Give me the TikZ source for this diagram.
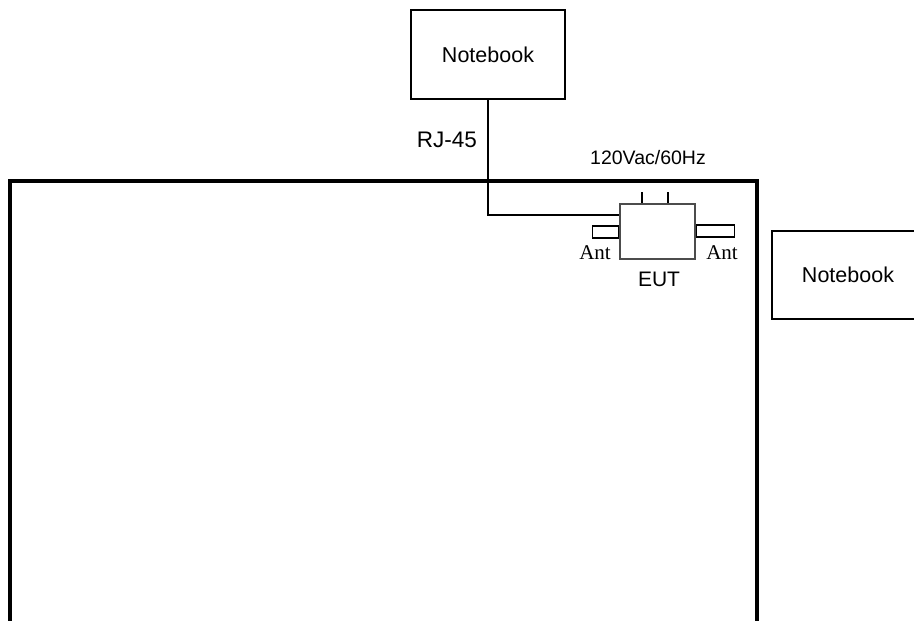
\documentclass[tikz,border=0pt]{standalone}
\usepackage{fontspec}
\setmainfont{Liberation Sans}
\newfontfamily\antfont{Liberation Serif}
\tikzset{
  pcbox/.style={draw, line width=1.3pt, font=\fontsize{21.5}{24}\selectfont},
  antbox/.style={draw, line width=1.3pt, minimum height=12pt, inner sep=0pt},
  lbl/.style={inner sep=0pt, font=\fontsize{21}{24}\selectfont},
}
\begin{document}
\begin{tikzpicture}[x=1pt,y=-1pt,line width=1.3pt]
\useasboundingbox (0,0) rectangle (914,621);
\clip (0,0) rectangle (914,621);
\fill[white] (0,0) rectangle (914,621);

% table outline
\draw[line width=4pt] (10,640) -- (10,181) -- (757,181) -- (757,640);

\node[pcbox, minimum width=154pt, minimum height=89pt] (nbtop) at (488,54.5) {Notebook};
\node[pcbox, minimum width=152pt, minimum height=88pt] (nbright) at (848,275) {Notebook};

\node[draw, line width=2pt, draw=black!70, minimum width=75pt, minimum height=55pt] (eut) at (657.5,231.5) {};
\node[antbox, minimum width=26pt, anchor=east] (antl) at (eut.west |- 0,232) {};
\node[antbox, minimum width=38pt, anchor=west] (antr) at (eut.east |- 0,231) {};

\coordinate (lead1) at (642,192);
\coordinate (lead2) at (668,192);
\draw (lead1) -- (lead1 |- eut.north);
\draw (lead2) -- (lead2 |- eut.north);

\draw (nbtop.south) |- ([yshift=16.5pt]eut.west);

\node[lbl, font=\fontsize{22.5}{24}\selectfont] (rj) at (447,140) {RJ-45};
\node[lbl, font=\fontsize{19.5}{22}\selectfont] (ac) at (648,158) {120Vac/60Hz};
\node[lbl, font=\antfont\fontsize{21}{22}\selectfont] (antlbl1) at (595,253) {Ant};
\node[lbl, font=\antfont\fontsize{21}{22}\selectfont] (antlbl2) at (722,253) {Ant};
\node[lbl] (eutlbl) at (659,279) {EUT};
\end{tikzpicture}
\end{document}
